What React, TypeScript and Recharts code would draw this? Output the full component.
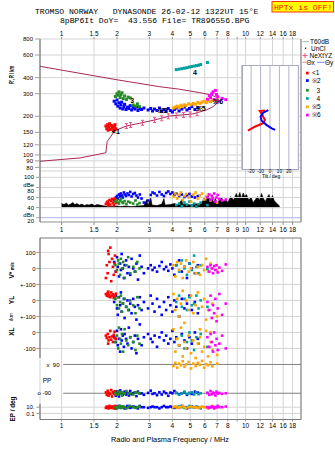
import React from 'react';
import {
  ComposedChart,
  Scatter,
  Line,
  Area,
  XAxis,
  YAxis,
  CartesianGrid,
  ReferenceLine,
} from 'recharts';

// frequency axis, MHz (log)
const freqTicks = [1, 1.5, 2, 3, 4, 5, 6, 7, 8, 9, 10, 12, 14, 16, 18];
const freqDomain = [0.763, 20];
const rangeTicks = [80, 90, 100, 120, 150, 200, 300, 400, 600, 800];
const dbeTicks = [20, 40, 60, 80, 100];
const tiltTicks = [-20, -10, 0, 10, 20];

// composite axis of the lower panel: V* | YL | XL | PP | EP rows
const lowerTicks = [100, 0, -100, -200, -300, -400, -500, -600, -780, -867, -906];
const lowerTickLabels = ['100', '0', '+-100', '0', '+-100', '0', '-100', 'x  90', 'o -90', '10.', '0.1'];

// echoes: [freq MHz, R' km, dBe, V* m/s, YL km, XL km, PP deg, EP deg]
const echoes1 = [
  [1.74, 168, 47, -60, 40, -20, -85, 6],
  [1.76, 160, 50, 20, 30, -35, -100, 16],
  [1.78, 172, 52, -30, 45, -10, -75, 10],
  [1.8, 165, 48, 90, 25, -50, -105, 4],
  [1.82, 175, 55, 40, 35, -30, -88, 25],
  [1.84, 158, 46, 130, 20, 10, -95, 10],
  [1.86, 170, 53, -80, 50, -45, -70, 6],
  [1.88, 162, 57, 60, 30, -25, -110, 16],
  [1.9, 168, 50, 10, 38, -60, -82, 10],
  [1.92, 155, 45, -40, 15, -15, -92, 4],
  [1.95, 172, 56, 80, 28, -35, -78, 25],
  [1.97, 160, 49, -20, 42, -40, -98, 10],
  [1.79, 156, 44, 110, 55, -70, -90, 6],
  [1.94, 164, 58, 30, 22, 5, -86, 16],
];
const echoes2 = [
  [1.93, 262, 55, 40, -10, -30, -85, 10],
  [1.97, 250, 60, -20, 30, -60, -105, 4],
  [2.0, 268, 63, 70, -50, 10, -78, 16],
  [2.02, 240, 58, 10, -90, -80, -92, 10],
  [2.05, 255, 66, -50, 20, -40, -110, 25],
  [2.08, 232, 62, 30, -30, -120, -72, 10],
  [2.1, 246, 68, -10, 50, 20, -90, 6],
  [2.12, 258, 64, 90, -70, -50, -86, 10],
  [2.15, 228, 60, 0, -20, -20, -100, 16],
  [2.18, 238, 70, -60, 10, -90, -90, 10],
  [2.2, 248, 66, 20, -110, -10, -80, 4],
  [2.24, 226, 63, 50, -40, -40, -98, 10],
  [2.28, 236, 68, -30, 0, -70, -88, 25],
  [2.32, 230, 65, 10, -60, 30, -104, 10],
  [2.36, 242, 71, -40, -20, -30, -76, 6],
  [2.4, 224, 62, 60, -80, -100, -96, 10],
  [2.45, 234, 67, 0, 10, -60, -90, 16],
  [2.5, 228, 69, -20, -40, -20, -84, 10],
  [2.55, 236, 64, 30, -120, -130, -108, 10],
  [2.6, 222, 60, -70, -30, -40, -80, 4],
  [2.66, 230, 66, 80, 20, 50, -92, 25],
  [2.72, 226, 58, 10, -60, -80, -90, 10],
  [2.8, 232, 50, -30, -10, -30, -100, 10],
  [2.95, 224, 54, 0, -50, -10, -88, 6],
  [3.05, 230, 65, 20, 30, -40, -74, 10],
  [3.12, 220, 70, -10, -20, -60, -94, 16],
  [3.2, 228, 68, 5, -70, -20, -90, 10],
  [3.3, 222, 64, -20, 10, -90, -102, 10],
  [3.4, 232, 71, 15, -40, -30, -84, 4],
  [3.5, 218, 66, 40, -90, 0, -98, 10],
  [3.6, 226, 63, -5, -10, -50, -80, 25],
  [3.7, 220, 69, 10, -60, -20, -90, 10],
  [3.8, 230, 72, -15, 20, -70, -106, 10],
  [3.9, 222, 67, 25, -30, -40, -86, 16],
  [4.0, 216, 70, 0, -70, 10, -90, 10],
  [4.1, 226, 65, -40, 0, -60, -76, 6],
  [4.2, 232, 68, 20, -40, -30, -88, 10],
  [4.35, 220, 63, 50, -100, -80, -96, 10],
  [4.5, 228, 66, -20, 10, -10, -90, 25],
  [4.65, 236, 61, 10, -50, -50, -84, 10],
  [4.8, 224, 64, -60, -20, -100, -100, 4],
  [4.95, 230, 67, 30, 30, -30, -88, 10],
  [5.1, 238, 62, 0, -60, -70, -94, 16],
  [5.3, 226, 60, -30, -10, 0, -80, 10],
  [5.5, 234, 63, 20, -80, -40, -86, 10],
];
const echoes3 = [
  [1.96, 285, 52, 20, 10, -60, -88, 10],
  [2.0, 300, 55, -10, -30, -20, -100, 4],
  [2.03, 292, 50, 50, 20, -100, -78, 16],
  [2.05, 310, 48, 30, -50, 30, -95, 10],
  [2.08, 280, 54, -40, -10, -40, -90, 25],
  [2.1, 295, 57, 60, 30, -70, -82, 6],
  [2.13, 305, 51, 0, -70, -10, -104, 10],
  [2.16, 275, 49, 40, -20, -120, -88, 16],
  [2.2, 288, 53, -60, 10, 20, -92, 10],
  [2.25, 270, 47, 20, -40, -50, -76, 4],
  [2.3, 282, 52, 70, -60, -80, -94, 10],
  [2.36, 278, 50, -30, 0, -30, -90, 25],
  [2.45, 245, 48, 10, -30, -60, -98, 10],
  [2.52, 240, 54, -20, -80, -110, -84, 6],
  [2.58, 250, 46, 40, 20, -20, -86, 10],
  [2.65, 238, 49, 0, -50, -70, -90, 16],
];
const echoes4 = [
  [4.2, 462, 45, 20, -10, -40, -88, 10],
  [4.35, 466, 48, -20, 30, -80, -100, 16],
  [4.5, 470, 43, 50, -40, -20, -90, 10],
  [4.65, 474, 50, 0, 10, -100, -80, 6],
  [4.8, 478, 46, -40, -60, -60, -94, 10],
  [4.95, 484, 52, 30, 20, 0, -90, 25],
  [5.1, 488, 44, -10, -30, -50, -84, 10],
  [5.25, 492, 48, 80, -20, -110, -98, 10],
  [5.4, 496, 42, 10, 30, -30, -84, 16],
  [5.55, 500, 47, -30, -50, -70, -96, 10],
  [5.7, 506, 50, 20, 0, -10, -90, 4],
  [6.2, 525, 45, -5, -40, -90, -88, 10],
];
const echoes5 = [
  [4.05, 232, 62, 20, 40, 20, 80, 10],
  [4.15, 236, 68, -50, -60, -120, 100, 16],
  [4.25, 240, 58, 40, 10, -40, 70, 6],
  [4.35, 234, 65, -10, -100, -80, 95, 10],
  [4.45, 244, 70, 30, -20, 30, 85, 10],
  [4.55, 238, 55, -60, 60, -150, 110, 25],
  [4.65, 246, 63, 10, -140, -60, 75, 10],
  [4.75, 242, 67, 50, 0, -100, 90, 4],
  [4.9, 250, 60, -20, -60, -20, 105, 10],
  [5.05, 246, 52, 0, 30, -130, 65, 16],
  [5.2, 252, 66, 40, -80, -50, 95, 10],
  [5.35, 248, 70, -30, -30, -160, 80, 10],
  [5.5, 256, 58, 10, 50, -70, 100, 6],
  [5.65, 252, 64, -40, -180, -30, 88, 10],
  [5.8, 258, 68, 20, -40, -120, 112, 16],
  [5.95, 262, 56, -10, 10, -90, 70, 10],
  [6.1, 256, 62, 60, -120, 10, 92, 10],
  [6.25, 264, 66, -20, -60, -150, 85, 4],
  [6.45, 260, 54, 30, -200, -60, 104, 10],
  [6.6, 266, 60, 0, -20, -110, 78, 25],
  [7.0, 268, 50, -10, -100, -140, 95, 10],
];
const echoes6 = [
  [6.2, 272, 60, 10, -10, -30, -88, 10],
  [6.35, 290, 66, -20, -60, -90, -100, 6],
  [6.45, 280, 55, 20, 30, -10, -76, 10],
  [6.55, 300, 63, 0, -110, -60, -96, 16],
  [6.65, 310, 58, -30, -30, -120, -86, 10],
  [6.75, 270, 68, 15, -80, 0, -90, 4],
  [6.85, 318, 52, -10, 10, -80, -104, 10],
  [6.95, 296, 60, 20, -130, -40, -80, 10],
  [7.05, 284, 65, -25, -50, -110, -92, 25],
  [7.2, 262, 57, 5, 40, -70, -88, 10],
  [7.45, 276, 54, -15, -90, -20, -94, 10],
  [7.8, 270, 56, 25, -20, -100, -90, 16],
];

// virtual-height trace (freq, km), drawn in order round the nose
const traceFreq = [0.763, 1.26, 1.739, 1.768, 1.946, 2.25, 2.66, 3.21, 3.87, 5.16, 6.12, 6.65, 6.99, 7.07, 6.93, 6.51, 5.63, 4.385, 3.415, 2.0, 0.763];
const traceRange = [89.3, 94.8, 104, 127, 154.6, 168, 176.6, 187.5, 201, 208.6, 224, 237.8, 252.7, 268, 281.4, 293.3, 305.6, 325, 340, 385, 490];

// NeXtYZ points
const nextFreq = [2.25, 2.37, 2.75, 3.2, 3.5, 3.8, 4.2, 4.6, 5.0, 5.45];
const nextRange = [168, 171, 178, 187, 193, 200, 203, 205, 207, 212];

// noise level, dBe
const noiseFreq = [1.0, 1.03, 1.06, 1.09, 1.12, 1.15, 1.18, 1.21, 1.25, 1.29, 1.33, 1.37, 1.41, 1.46, 1.51, 1.56, 1.61, 1.66, 1.72, 1.8, 1.9, 2.0, 2.1, 2.2, 2.4, 2.6, 2.8, 2.9, 2.95, 3.05, 3.1, 3.3, 3.5, 3.6, 3.65, 3.9, 4.1, 4.3, 4.5, 4.55, 4.8, 5.0, 5.3, 5.6, 5.8, 5.95, 6.1, 6.25, 6.4, 6.55, 6.7, 6.85, 7.0, 7.2, 7.4, 7.6, 7.8, 8.0, 8.3, 8.6, 8.9, 9.1, 9.3, 9.5, 9.7, 9.9, 10.1, 10.4, 10.7, 11.0, 11.3, 11.6, 11.9, 12.2, 12.5, 12.8, 13.1, 13.4, 13.7, 14.0, 14.3, 14.6, 15.0, 15.3];
const noiseTop = [48, 46, 49, 45, 47, 50, 46, 48, 45, 47, 44, 46, 45, 47, 44, 46, 45, 44, 43, 42, 42, 43, 42, 43, 42, 43, 44, 56, 44, 60, 45, 44, 47, 58, 45, 46, 48, 45, 56, 46, 47, 45, 48, 46, 50, 60, 52, 66, 54, 62, 50, 58, 48, 55, 60, 52, 56, 50, 62, 55, 68, 60, 70, 58, 69, 62, 66, 55, 60, 50, 56, 62, 54, 68, 58, 52, 60, 66, 56, 64, 54, 50, 46, 43];

// tilt (deg) against height (km)
const tiltXdeg = [-23.3, -16.1, -7.2, -5.4, -7.2, -8.9, -10.8, -5.4];
const tiltXkm = [154.6, 166, 176.6, 187.5, 198.8, 211, 220, 221.6];
const tiltYdeg = [5.4, 1.8, -3.5, -8.9, -10, -7.2, -1.8];
const tiltYkm = [156.7, 161.4, 171, 185, 198.8, 213.5, 224];

// cluster labels
const labelText = ['<1', '※2', '3', '4', '※5', '※6'];
const labelFreq = [1.97, 3.54, 2.42, 5.3, 5.7, 7.1];
const labelRange = [152, 222, 265, 440, 230, 262];

const classes = [
  { name: '※2', color: '#0000ff', rows: echoes2 },
  { name: '<1', color: '#ff0000', rows: echoes1 },
  { name: '3', color: '#228b22', rows: echoes3 },
  { name: '4', color: '#00a0a0', rows: echoes4 },
  { name: '※5', color: '#ffa500', rows: echoes5 },
  { name: '※6', color: '#ff00ff', rows: echoes6 },
];
const legendOrder = [1, 0, 2, 3, 4, 5];

const traceData = traceFreq.map((f, i) => ({ f, y: traceRange[i] }));
const nextData = nextFreq.map((f, i) => ({ f, y: nextRange[i] }));
const noiseData = noiseFreq.map((f, i) => ({ f, y: [40, noiseTop[i]] }));
const tiltX = tiltXdeg.map((t, i) => ({ t, h: tiltXkm[i] }));
const tiltY = tiltYdeg.map((t, i) => ({ t, h: tiltYkm[i] }));
const labelData = labelText.map((t, i) => ({ f: labelFreq[i], y: labelRange[i], t }));

const rangeRows = (rows: number[][]) => rows.map((r) => ({ f: r[0], y: r[1] }));
const dbeRows = (rows: number[][]) => rows.map((r) => ({ f: r[0], y: r[2] }));
const lowerRows = (rows: number[][]) =>
  rows.flatMap((r) => [
    { f: r[0], y: r[3] },
    { f: r[0], y: -200 + r[4] },
    { f: r[0], y: -400 + r[5] },
    { f: r[0], y: -690 + r[6] },
    { f: r[0], y: -867 + 19.5 * Math.log10(r[7] / 10) },
  ]);

const square = (color: string, s = 2.6) => (p: any) =>
  <rect x={p.cx - s / 2} y={p.cy - s / 2} width={s} height={s} fill={color} />;

const ErrorMark = (p: any) => (
  <g stroke="#e8508a" strokeWidth={1}>
    <line x1={p.cx} x2={p.cx} y1={p.cy - 2.5} y2={p.cy + 2.5} />
    <line x1={p.cx - 1.5} x2={p.cx + 1.5} y1={p.cy - 2.5} y2={p.cy - 2.5} />
    <line x1={p.cx - 1.5} x2={p.cx + 1.5} y1={p.cy + 2.5} y2={p.cy + 2.5} />
  </g>
);

const ClusterLabel = (p: any) => (
  <text x={p.cx} y={p.cy} dy="0.35em" textAnchor="middle" fontSize={7} fontWeight="bold" fill="#000">
    {p.payload.t}
  </text>
);

const LowerTick = (p: any) => {
  const v = p.payload.value;
  const i = lowerTicks.indexOf(v);
  const inside = v === -600 || v === -780;
  return (
    <g>
      {!inside && <line x1={36.5} x2={40} y1={p.y} y2={p.y} stroke="#909090" />}
      <text
        x={inside ? (v === -600 ? 46.5 : 37.5) : v < -800 ? 34.5 : 35.5}
        y={p.y}
        dy="0.35em"
        textAnchor={inside ? 'start' : 'end'}
        fontSize={6}
        fill="#000"
        style={{ whiteSpace: 'pre' }}
      >
        {lowerTickLabels[i]}
      </text>
    </g>
  );
};

const skipNine = (v: number) => (v === 9 ? '' : String(v));
const dbeLabel = (v: number) => (v === 80 ? 'dBe 80' : v === 20 ? 'dBn 20' : String(v));

const tickFont = { fontSize: 6.5, fill: '#000' };
const gridGrey = '#d4d4d4';
const frame = '#7a7a7a';
const mono = '"Liberation Mono", "DejaVu Sans Mono", monospace';

const abs: React.CSSProperties = { position: 'absolute', left: 0, top: 0 };

export default function App() {
  return (
    <div
      style={{
        position: 'absolute',
        left: 0,
        top: 0,
        width: 335,
        height: 451,
        background: '#fff',
        overflow: 'hidden',
        fontFamily: '"Liberation Sans", Arial, sans-serif',
      }}
    >
      {/* virtual height panel */}
      <div style={abs}>
        <ComposedChart width={335} height={175} margin={{ top: 29, right: 34, bottom: 4, left: 10 }}>
          <CartesianGrid stroke={gridGrey} />
          <XAxis dataKey="f" type="number" scale="log" domain={freqDomain} ticks={freqTicks} orientation="top"
            height={10} allowDataOverflow interval={0} tickFormatter={skipNine} tick={tickFont}
            tickSize={2} tickMargin={1} axisLine={false} tickLine={{ stroke: '#909090' }} />
          <YAxis dataKey="y" type="number" scale="log" domain={[75, 800]} ticks={rangeTicks} width={30}
            allowDataOverflow interval={0} tick={{ fontSize: 6, fill: '#000' }} tickSize={5} tickMargin={2}
            axisLine={{ stroke: '#606060' }} tickLine={{ stroke: '#a0a0a0' }} />
          <ReferenceLine x={20} stroke={frame} />
          <Line data={traceData} dataKey="y" type="linear" stroke="#a8285a" strokeWidth={1} dot={false}
            isAnimationActive={false} />
          <Scatter data={nextData} shape={ErrorMark} isAnimationActive={false} />
          {classes.map((c) => (
            <Scatter key={c.name} data={rangeRows(c.rows)} shape={square(c.color, 3)} isAnimationActive={false} />
          ))}
          <Scatter data={labelData} shape={ClusterLabel} isAnimationActive={false} />
        </ComposedChart>
      </div>

      {/* amplitude panel */}
      <div style={abs}>
        <ComposedChart width={335} height={236} margin={{ top: 171, right: 34, bottom: 2, left: 10 }}>
          <CartesianGrid horizontal={false} stroke={gridGrey} />
          <XAxis dataKey="f" type="number" scale="log" domain={freqDomain} ticks={freqTicks} height={12}
            allowDataOverflow interval={0} tick={tickFont} tickSize={3} tickMargin={2.5}
            axisLine={{ stroke: '#909090' }} tickLine={{ stroke: '#909090' }} />
          <YAxis dataKey="y" type="number" domain={[11.5, 112.5]} ticks={dbeTicks} width={30} allowDataOverflow
            interval={0} tickFormatter={dbeLabel} tick={{ fontSize: 6, fill: '#000' }} tickSize={4} tickMargin={2}
            axisLine={{ stroke: '#606060' }} tickLine={{ stroke: '#a0a0a0' }} />
          {dbeTicks.map((v) => (
            <ReferenceLine key={v} y={v} stroke={v === 20 ? '#b4b4ee' : gridGrey} />
          ))}
          <ReferenceLine x={20} stroke={frame} />
          <Area data={noiseData} dataKey="y" type="linear" stroke="#000" strokeWidth={0.6} fill="#000"
            fillOpacity={1} isAnimationActive={false} />
          {classes.map((c) => (
            <Scatter key={c.name} data={dbeRows(c.rows)} shape={square(c.color)} isAnimationActive={false} />
          ))}
        </ComposedChart>
      </div>

      {/* V*, YL, XL, PP, EP panel */}
      <div style={abs}>
        <ComposedChart width={335} height={451} margin={{ top: 238, right: 34, bottom: 19.5, left: 10 }}>
          <CartesianGrid horizontal={false} stroke={gridGrey} />
          <XAxis dataKey="f" type="number" scale="log" domain={freqDomain} ticks={freqTicks} height={12}
            allowDataOverflow interval={0} tickFormatter={skipNine} tick={tickFont} tickSize={2} tickMargin={2}
            axisLine={{ stroke: frame }} tickLine={{ stroke: '#909090' }} />
          <YAxis dataKey="y" type="number" domain={[-944, 190]} ticks={lowerTicks} width={30} allowDataOverflow
            interval={0} tick={LowerTick} tickLine={false} axisLine={false} />
          {lowerTicks
            .filter((v) => v !== -600 && v !== -780)
            .map((v) => (
              <ReferenceLine key={v} y={v} stroke={gridGrey} />
            ))}
          <ReferenceLine segment={[{ x: 1.02, y: -600 }, { x: 20, y: -600 }]} stroke="#808080" />
          <ReferenceLine segment={[{ x: 1.02, y: -780 }, { x: 20, y: -780 }]} stroke="#808080" />
          <ReferenceLine y={190} stroke={frame} />
          <ReferenceLine x={20} stroke={frame} />
          <ReferenceLine segment={[{ x: 0.763, y: 190 }, { x: 0.763, y: -560 }]} stroke="#606060" />
          <ReferenceLine segment={[{ x: 0.763, y: -845 }, { x: 0.763, y: -944 }]} stroke="#606060" />
          {classes.map((c) => (
            <Scatter key={c.name} data={lowerRows(c.rows)} shape={square(c.color)} isAnimationActive={false} />
          ))}
        </ComposedChart>
      </div>

      {/* tilt inset */}
      <div
        style={{
          position: 'absolute',
          left: 241.5,
          top: 65,
          width: 57,
          height: 104.5,
          border: '1px solid #a8a8c0',
          boxSizing: 'border-box',
          background: '#fff',
        }}
      />
      <div style={abs}>
        <ComposedChart width={335} height={180} margin={{ top: 65, right: 36.7, bottom: 0.7, left: 241.7 }}>
          <CartesianGrid horizontal={false} stroke="#b4b4cc" />
          <XAxis dataKey="t" type="number" domain={[-30, 30]} ticks={tiltTicks} height={10} allowDataOverflow
            interval={0} tick={{ fontSize: 4.6, fill: '#000' }} tickSize={0} tickMargin={0} axisLine={false}
            tickLine={false} />
          <YAxis dataKey="h" type="number" scale="log" domain={[77.4, 502]} hide allowDataOverflow />
          <Line data={tiltX} dataKey="h" type="linear" stroke="#ff0000" strokeWidth={2} dot={false}
            isAnimationActive={false} />
          <Line data={tiltY} dataKey="h" type="linear" stroke="#0000ff" strokeWidth={2} dot={false}
            isAnimationActive={false} />
        </ComposedChart>
      </div>

      {/* titles, legend, axis names */}
      <svg width={335} height={451} style={{ ...abs, pointerEvents: 'none' }}>
        <text x={35} y={14.3} fontFamily={mono} fontSize={8.1} fill="#000" style={{ whiteSpace: 'pre' }}>
          TROMSO NORWAY   DYNASONDE 26-02-12 1322UT 15°E
        </text>
        <text x={60} y={22.7} fontFamily={mono} fontSize={8.1} fill="#000" style={{ whiteSpace: 'pre' }}>
          8pBP6It DoY=  43.556 File= TR896556.BPG
        </text>
        <rect x={272} y={1.5} width={61.5} height={10.5} fill="#ffff00" stroke="#ff3300" />
        <text x={274} y={10} fontFamily={mono} fontSize={8.1} fill="#ff0000">
          HPTx is OFF!
        </text>

        <g fontSize={6.5} fill="#000">
          <line x1={302.5} x2={309} y1={41.7} y2={41.7} stroke="#b0b0b0" />
          <text x={310} y={44}>T60dB</text>
          <rect x={305} y={47.6} width={1.2} height={1.2} fill="#000" />
          <text x={311} y={50.6}>UnCl</text>
          <line x1={302.5} x2={307.5} y1={55.6} y2={55.6} stroke="#e8508a" />
          <line x1={305} x2={305} y1={53.1} y2={58.1} stroke="#e8508a" />
          <text x={309.5} y={58}>NeXtYZ</text>
          <line x1={302.5} x2={306} y1={62.3} y2={62.3} stroke="#f08080" />
          <text x={306.5} y={64.6}>Θx</text>
          <line x1={317} x2={324.5} y1={62.3} y2={62.3} stroke="#8080ff" />
          <text x={325} y={64.6}>Θy</text>
          {legendOrder.map((k, i) => {
            const c = classes[k];
            const y = [73, 80.5, 90.2, 98.4, 106.8, 115][i];
            const indent = c.name.length === 1 ? 4.5 : 0;
            return (
              <g key={c.name}>
                <rect x={306} y={y - 1.3} width={2.7} height={2.7} fill={c.color} />
                <text x={312 + indent} y={y + 2.3}>{c.name}</text>
              </g>
            );
          })}
        </g>

        <text x={271} y={178.3} fontSize={4.8} textAnchor="middle" fill="#000">Tilt / deg</text>

        <g fontWeight="bold" fill="#000">
          <text transform="translate(14,75) rotate(-90)" textAnchor="middle" fontSize={6.5}
            textLength={18} lengthAdjust="spacingAndGlyphs">R&apos;, R / km</text>
          <text transform="translate(13.5,278.5) rotate(-90)" fontSize={6.5}>
            V*<tspan fontSize={4.5} dx={1.5}>m/s</tspan>
          </text>
          <text transform="translate(13.5,300) rotate(-90)" textAnchor="middle" fontSize={6.5}>YL</text>
          <text transform="translate(13,317) rotate(-90)" textAnchor="middle" fontSize={5} fontWeight="normal">/km</text>
          <text transform="translate(13.5,331.7) rotate(-90)" textAnchor="middle" fontSize={6.5}>XL</text>
          <text transform="translate(15,409) rotate(-90)" textAnchor="middle" fontSize={6.5}
            textLength={25} lengthAdjust="spacingAndGlyphs">EP / deg</text>
        </g>
        <text x={42.7} y={382.5} fontSize={6.5} fill="#000">PP</text>
        <text x={111} y={441.6} fontSize={7.3} fill="#000" textLength={118} lengthAdjust="spacingAndGlyphs">
          Radio and Plasma Frequency / MHz
        </text>
      </svg>
    </div>
  );
}
